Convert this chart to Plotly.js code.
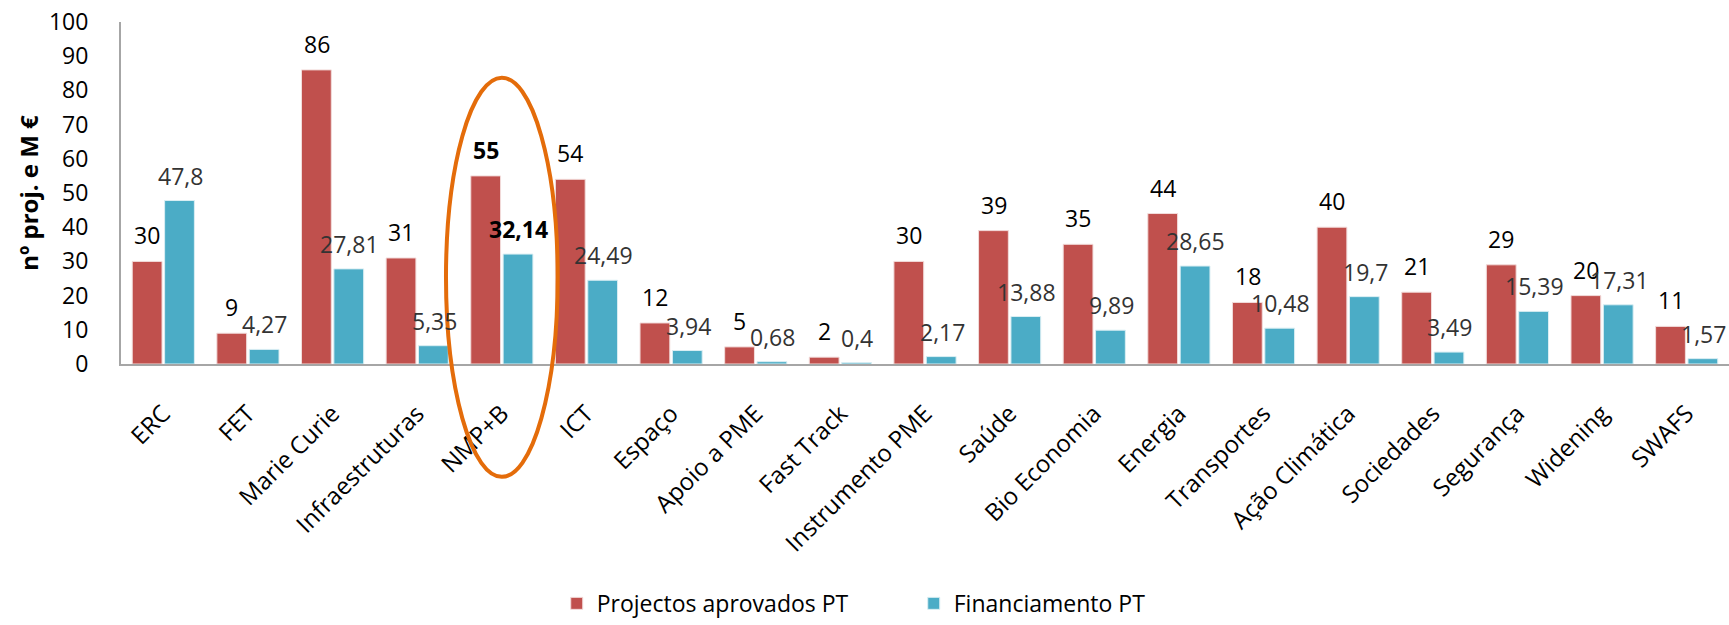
<!DOCTYPE html>
<html>
<head>
<meta charset="utf-8">
<script src="https://cdn.plot.ly/plotly-3.0.1.min.js"></script>
<style>html,body{margin:0;padding:0;background:#fff;}#chart{width:1729px;height:625px;}</style>
</head>
<body>
<div id="chart"></div>
<script>
const categories = ["ERC","FET","Marie Curie","Infraestruturas","NMP+B","ICT","Espaço","Apoio a PME","Fast Track","Instrumento PME","Saúde","Bio Economia","Energia","Transportes","Ação Climática","Sociedades","Segurança","Widening","SWAFS"];
const projectos = [30,9,86,31,55,54,12,5,2,30,39,35,44,18,40,21,29,20,11];
const financiamento = [47.8,4.27,27.81,5.35,32.14,24.49,3.94,0.68,0.4,2.17,13.88,9.89,28.65,10.48,19.7,3.49,15.39,17.31,1.57];
const highlighted = "NMP+B";
const yTicks = [0,10,20,30,40,50,60,70,80,90,100];

const FONT = "Open Sans, Noto Sans, sans-serif";
const RED = "#C0504D", BLUE = "#4BACC6";
const fmt = v => String(v).replace(".", ",");

const traces = [
  {type:"bar", name:"Projectos aprovados PT", x:categories, y:projectos,
   marker:{color:RED, line:{color:"#F2DCDB", width:1}}, hoverinfo:"x+y"},
  {type:"bar", name:"Financiamento PT", x:categories, y:financiamento,
   marker:{color:BLUE, line:{color:"#DAEEF3", width:1}}, hoverinfo:"x+y"}
];

const annotations = [];
categories.forEach((c, i) => {
  const bold = c === highlighted;
  annotations.push({x:c, y:projectos[i], xref:"x", yref:"y", xshift:-16, yshift:26,
    text: bold ? "<b>"+fmt(projectos[i])+"</b>" : fmt(projectos[i]),
    showarrow:false, xanchor:"center", yanchor:"middle",
    font:{family:FONT, size:23, color:"#000"}});
  annotations.push({x:c, y:financiamento[i], xref:"x", yref:"y", xshift:17, yshift:25,
    text: bold ? "<b>"+fmt(financiamento[i])+"</b>" : fmt(financiamento[i]),
    showarrow:false, xanchor:"center", yanchor:"middle",
    font:{family:FONT, size:23, color: bold ? "#000" : "#333"}});
});

const hi = categories.indexOf(highlighted);
const layout = {
  width:1729, height:625,
  margin:{l:121, r:0, t:22, b:253},
  paper_bgcolor:"#fff", plot_bgcolor:"#fff",
  font:{family:FONT, size:21, color:"#000"},
  barmode:"group", bargap:0.235, bargroupgap:0.08,
  showlegend:true,
  legend:{orientation:"h", x:0.493, xanchor:"center", y:-0.70, yanchor:"middle",
    font:{family:FONT, size:23, color:"#000"}, traceorder:"normal", itemwidth:30,
    entrywidth:312},
  xaxis:{type:"category", tickangle:-45, showline:true, linecolor:"#A6A6A6", linewidth:2,
    ticks:"", showgrid:false, zeroline:false, ticklabelstandoff:24,
    tickfont:{family:FONT, size:24, color:"#000"}, fixedrange:true},
  yaxis:{range:[0,100], tickvals:yTicks, ticktext:yTicks.map(String), showline:true, linecolor:"#A6A6A6", linewidth:2,
    ticks:"", showgrid:false, zeroline:false, ticklabelstandoff:26,
    tickfont:{family:FONT, size:23, color:"#000"},
    title:{text:"<b>nº proj. e M €</b>", font:{family:FONT, size:24, color:"#000"}, standoff:4}},
  annotations: annotations,
  shapes:[{type:"circle", xref:"x", yref:"paper", x0:hi-0.66, x1:hi+0.66, y0:-0.33, y1:0.837,
    line:{color:"#E46C0A", width:4}, layer:"above"}]
};

Plotly.newPlot("chart", traces, layout, {displayModeBar:false, staticPlot:true});
</script>
</body>
</html>
